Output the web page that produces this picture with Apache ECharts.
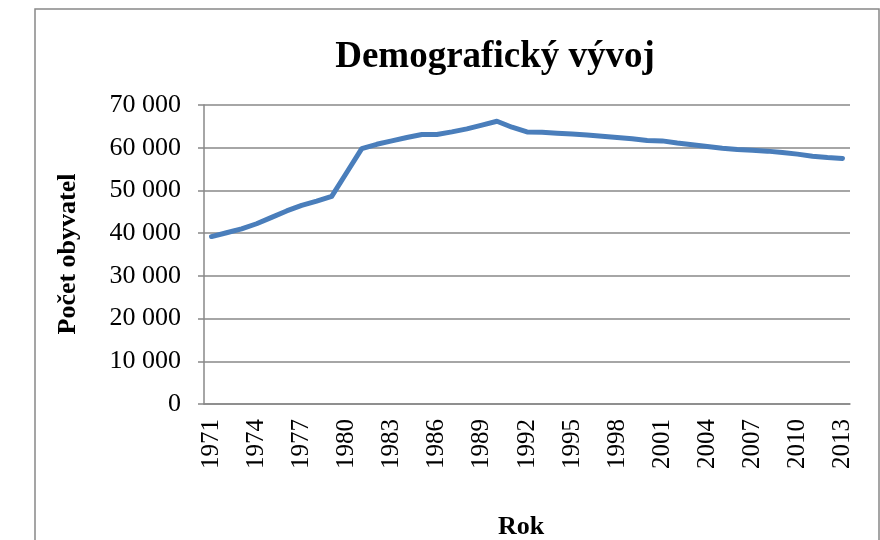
<!DOCTYPE html>
<html>
<head>
<meta charset="utf-8">
<script src="https://cdn.jsdelivr.net/npm/echarts@6/dist/echarts.min.js"></script>
<style>html,body{margin:0;padding:0;background:#fff}#c{width:880px;height:540px}</style>
</head>
<body>
<div id="c"></div>
<script>
const years = [];
for (let y = 1971; y <= 2013; y++) years.push(String(y));
const population = [
  39200, 40100, 41000, 42200, 43700, 45200, 46500, 47500, 48600, 54200,
  59800, 60800, 61600, 62400, 63100, 63100, 63700, 64400, 65300, 66200,
  64800, 63700, 63600, 63400, 63200, 63000, 62700, 62400, 62100, 61700,
  61600, 61100, 60700, 60300, 59900, 59600, 59400, 59200, 58900, 58500,
  58000, 57700, 57500
];
const titleText = 'Demografický vývoj';
const yTitle = 'Počet obyvatel';
const xTitle = 'Rok';

const serif = '"Liberation Serif", "Times New Roman", serif';
const chart = echarts.init(document.getElementById('c'));
chart.setOption({
  backgroundColor: '#fff',
  animation: false,
  title: {
    text: titleText,
    left: 490, top: 34, textAlign: 'center',
    textStyle: { fontFamily: serif, fontWeight: 'bold', fontSize: 37, color: '#000' }
  },
  graphic: [{
    type: 'rect', shape: { x: 35, y: 9, width: 844, height: 560 },
    style: { fill: 'none', stroke: '#888', lineWidth: 1.5 }, z: -1
  }, {
    type: 'text', x: 521, y: 527,
    style: { text: xTitle, font: 'bold 26px ' + serif, fill: '#000', align: 'center', verticalAlign: 'middle' }
  }, {
    type: 'text', x: 68, y: 254, rotation: Math.PI / 2,
    style: { text: yTitle, font: 'bold 26px ' + serif, fill: '#000', align: 'center', verticalAlign: 'middle' }
  }],
  grid: { left: 204, right: 30, top: 105, bottom: 136, containLabel: false },
  xAxis: {
    type: 'category', data: years, boundaryGap: true,
    axisLine: { lineStyle: { color: '#888', width: 1.5 } },
    axisTick: { interval: 0, length: 6, lineStyle: { color: '#888', width: 1.5 } },
    axisLabel: { interval: 2, rotate: 90, margin: 15, fontFamily: serif, fontSize: 25, color: '#000' },
    splitLine: { show: false }
  },
  yAxis: {
    type: 'value', min: 0, max: 70000, interval: 10000,
    axisLine: { show: true, lineStyle: { color: '#888', width: 1.5 } },
    axisTick: { show: true, length: 6, lineStyle: { color: '#888', width: 1.5 } },
    axisLabel: {
      margin: 23, fontFamily: serif, fontSize: 26, color: '#000',
      formatter: v => String(v).replace(/\B(?=(\d{3})+(?!\d))/g, ' ')
    },
    splitLine: { lineStyle: { color: '#888', width: 1.5 } }
  },
  series: [{
    type: 'line', data: population, showSymbol: false, symbol: 'none',
    lineStyle: { color: '#4A7EBB', width: 5, cap: 'round', join: 'round' },
    itemStyle: { color: '#4A7EBB' }
  }]
});
</script>
</body>
</html>
